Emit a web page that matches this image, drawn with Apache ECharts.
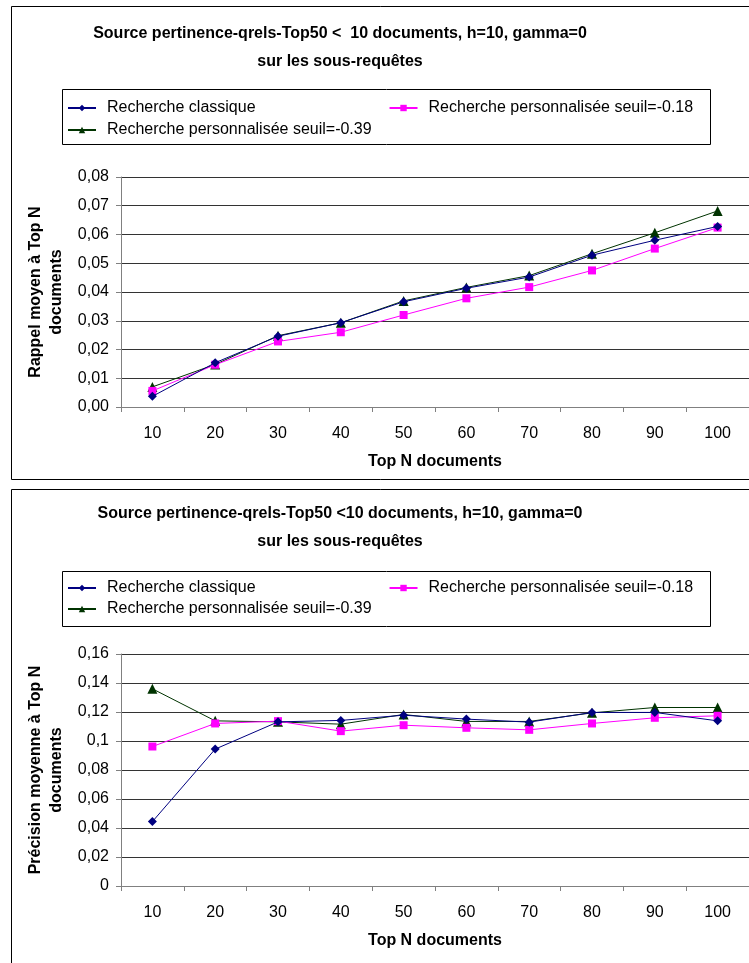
<!DOCTYPE html>
<html><head><meta charset="utf-8">
<script src="https://cdn.jsdelivr.net/npm/echarts@6/dist/echarts.min.js"></script>
<style>html,body{margin:0;padding:0;background:#fff}#c{width:749px;height:963px}</style>
</head><body><div id="c"></div>
<script>
const categories = ['10','20','30','40','50','60','70','80','90','100'];
const seriesNames = ['Recherche classique','Recherche personnalisée seuil=-0.18','Recherche personnalisée seuil=-0.39'];

// Chart 1: Rappel moyen
const rappelClassique = [0.0037,0.0154,0.0246,0.0293,0.0366,0.0413,0.0452,0.0528,0.0580,0.0628];
const rappelSeuil018  = [0.0056,0.0147,0.0228,0.0260,0.0320,0.0378,0.0417,0.0475,0.0551,0.0624];
const rappelSeuil039  = [0.0070,0.0148,0.0248,0.0293,0.0369,0.0416,0.0457,0.0533,0.0606,0.0682];

// Chart 2: Précision moyenne
const precisionClassique = [0.0444,0.0944,0.1132,0.1142,0.1178,0.1151,0.1130,0.1197,0.1197,0.1139];
const precisionSeuil018  = [0.0962,0.1121,0.1137,0.1068,0.1109,0.1091,0.1077,0.1121,0.1160,0.1174];
const precisionSeuil039  = [0.1360,0.1139,0.1132,0.1116,0.1183,0.1135,0.1135,0.1194,0.1231,0.1231];

const title1 = 'Source pertinence-qrels-Top50 <  10 documents, h=10, gamma=0\nsur les sous-requêtes';
const title2 = 'Source pertinence-qrels-Top50 <10 documents, h=10, gamma=0\nsur les sous-requêtes';
const yName1 = 'Rappel moyen à Top N\ndocuments';
const yName2 = 'Précision moyenne à Top N\ndocuments';
const xName = 'Top N documents';

const FONT = "'Liberation Sans', Arial, sans-serif";
const colors = ['#000080', '#FF00FF', '#003300'];
const symbols = ['diamond', 'rect', 'triangle'];
const symbolSizes = [9, 8, 10];

const chart = echarts.init(document.getElementById('c'), null, {renderer: 'canvas'});

function makeSeries(data, gi) {
  return data.map((d, i) => ({
    name: seriesNames[i], type: 'line', xAxisIndex: gi, yAxisIndex: gi,
    data: d, symbol: symbols[i], symbolSize: symbolSizes[i], showSymbol: true,
    lineStyle: {color: colors[i], width: 1}, itemStyle: {color: colors[i]},
    animation: false, z: 3 - i + 2
  }));
}

function xAxisDef(gi) {
  return {
    gridIndex: gi, type: 'category', data: categories, boundaryGap: true,
    axisLine: {show: true, lineStyle: {color: '#808080', width: 1}},
    axisTick: {show: true, length: 5, lineStyle: {color: '#808080'}},
    axisLabel: {fontFamily: FONT, fontSize: 16, color: '#000', margin: 19},
    name: xName, nameLocation: 'middle', nameGap: 47,
    nameTextStyle: {fontFamily: FONT, fontSize: 16, fontWeight: 'bold', color: '#000'},
    splitLine: {show: false}
  };
}

function yAxisDef(gi, max, interval, fmt, name) {
  return {
    gridIndex: gi, type: 'value', min: 0, max: max, interval: interval,
    axisLine: {show: true, lineStyle: {color: '#808080', width: 1}},
    axisTick: {show: true, length: 5, lineStyle: {color: '#808080'}},
    axisLabel: {fontFamily: FONT, fontSize: 16, color: '#000', margin: 12, formatter: fmt},
    splitLine: {show: true, lineStyle: {color: '#333', width: 1}},
    name: name, nameLocation: 'middle', nameRotate: 90, nameGap: 48,
    nameTextStyle: {fontFamily: FONT, fontSize: 16, fontWeight: 'bold', color: '#000', lineHeight: 21, align: 'center'}
  };
}

function legendDefs(top1, top2) {
  const common = {
    orient: 'horizontal', left: 67, padding: 0, itemWidth: 28, itemHeight: 8,
    selectedMode: false,
    textStyle: {fontFamily: FONT, fontSize: 16, color: '#000', padding: [0, 0, 0, 6]}
  };
  return [
    Object.assign({}, common, {top: top1, itemGap: 133, data: [seriesNames[0], seriesNames[1]]}),
    Object.assign({}, common, {top: top2, itemGap: 10, data: [seriesNames[2]]})
  ];
}

const titleStyle = {fontFamily: FONT, fontSize: 16, fontWeight: 'bold', color: '#000', lineHeight: 28};

const option = {
  backgroundColor: '#fff',
  animation: false,
  textStyle: {fontFamily: FONT},
  title: [
    {text: title1, left: 340, top: 20, padding: 0, textAlign: 'center', textStyle: titleStyle},
    {text: title2, left: 340, top: 500, padding: 0, textAlign: 'center', textStyle: titleStyle}
  ],
  legend: legendDefs(100, 122).concat(legendDefs(580, 601)),
  grid: [
    {left: 121, top: 177, width: 630, height: 230, containLabel: false},
    {left: 121, top: 654, width: 630, height: 232, containLabel: false}
  ],
  xAxis: [xAxisDef(0), xAxisDef(1)],
  yAxis: [
    yAxisDef(0, 0.08, 0.01, v => v.toFixed(2).replace('.', ','), yName1),
    yAxisDef(1, 0.16, 0.02, v => String(Math.round(v * 100) / 100).replace('.', ','), yName2)
  ],
  series: makeSeries([rappelClassique, rappelSeuil018, rappelSeuil039], 0)
    .concat(makeSeries([precisionClassique, precisionSeuil018, precisionSeuil039], 1)),
  graphic: [
    {type: 'rect', shape: {x: 11.5, y: 6.5, width: 760, height: 473}, style: {fill: null, stroke: '#000', lineWidth: 1}, silent: true, z: -1},
    {type: 'rect', shape: {x: 11.5, y: 489.5, width: 760, height: 490}, style: {fill: null, stroke: '#000', lineWidth: 1}, silent: true, z: -1},
    {type: 'rect', shape: {x: 62.5, y: 89.5, width: 648, height: 55}, style: {fill: null, stroke: '#000', lineWidth: 1}, silent: true, z: -1},
    {type: 'rect', shape: {x: 62.5, y: 571.5, width: 648, height: 55}, style: {fill: null, stroke: '#000', lineWidth: 1}, silent: true, z: -1}
  ]
};
chart.setOption(option);
</script>
</body></html>
